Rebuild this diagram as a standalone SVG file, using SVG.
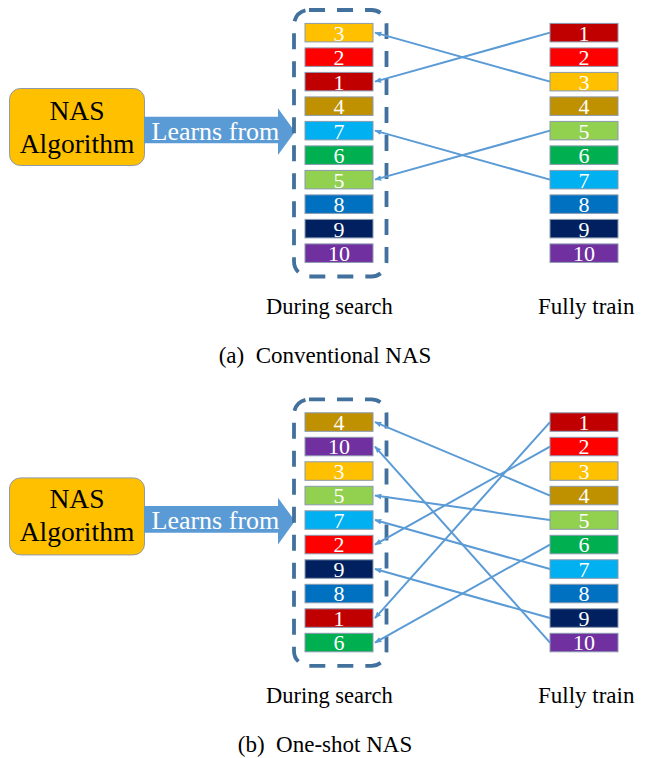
<svg xmlns="http://www.w3.org/2000/svg" width="650" height="758" viewBox="0 0 650 758">
<style>
text{font-family:'Liberation Serif','Times New Roman',serif}
.num{fill:#fff;font-size:22px;text-anchor:middle}
.box{stroke:#8a99ae;stroke-width:1}
.c1{fill:#C00000}.c2{fill:#FF0000}.c3{fill:#FFC000}.c4{fill:#BF9000}.c5{fill:#92D050}
.c6{fill:#00B050}.c7{fill:#00B0F0}.c8{fill:#0070C0}.c9{fill:#002060}.c10{fill:#7030A0}
.nas{fill:#FFC000;stroke:#8e9aab;stroke-width:1}
.nastxt{font-size:27.5px;fill:#000;text-anchor:middle}
.big{fill:#5B9BD5}
.lf{font-size:26px;fill:#fff}
.dash{fill:none;stroke:#41719C;stroke-width:3.8;stroke-dasharray:16 12}
.con line{stroke:#5B9BD5;stroke-width:2;marker-end:url(#ah)}
.lbl{font-size:22.5px;fill:#000}
.cap{font-size:23px;fill:#000;text-anchor:middle}
</style>
<defs>
<marker id="ah" viewBox="0 0 10 10" refX="9" refY="5" markerWidth="7" markerHeight="7" markerUnits="userSpaceOnUse" orient="auto">
<path d="M0,1 L10,5 L0,9 z" fill="#5B9BD5"/>
</marker>
</defs>

<!-- Panel (a) -->
<g id="panel-a">
<g id="a-nas"><rect class="nas" x="9.5" y="88.5" width="135" height="77" rx="11"/><text class="nastxt" x="77" y="120">NAS</text><text class="nastxt" x="77" y="153">Algorithm</text></g>
<g id="a-learns"><path class="big" d="M144,116.7 H278 V108.3 L295,131.7 L278,155 V143.3 H144 Z"/><text class="lf" x="151.5" y="140">Learns from</text></g>
<g id="a-search"><rect class="dash" x="294" y="10" width="92.5" height="266.5" rx="15"/></g>
<g id="a-l0"><rect class="box c3" x="305" y="23.4" width="68" height="18.5"/><text class="num" x="339" y="40.6">3</text></g>
<g id="a-l1"><rect class="box c2" x="305" y="47.9" width="68" height="18.5"/><text class="num" x="339" y="65.1">2</text></g>
<g id="a-l2"><rect class="box c1" x="305" y="72.4" width="68" height="18.5"/><text class="num" x="339" y="89.6">1</text></g>
<g id="a-l3"><rect class="box c4" x="305" y="96.9" width="68" height="18.5"/><text class="num" x="339" y="114.1">4</text></g>
<g id="a-l4"><rect class="box c7" x="305" y="121.4" width="68" height="18.5"/><text class="num" x="339" y="138.6">7</text></g>
<g id="a-l5"><rect class="box c6" x="305" y="145.9" width="68" height="18.5"/><text class="num" x="339" y="163.1">6</text></g>
<g id="a-l6"><rect class="box c5" x="305" y="170.4" width="68" height="18.5"/><text class="num" x="339" y="187.6">5</text></g>
<g id="a-l7"><rect class="box c8" x="305" y="194.9" width="68" height="18.5"/><text class="num" x="339" y="212.1">8</text></g>
<g id="a-l8"><rect class="box c9" x="305" y="219.4" width="68" height="18.5"/><text class="num" x="339" y="236.6">9</text></g>
<g id="a-l9"><rect class="box c10" x="305" y="243.9" width="68" height="18.5"/><text class="num" x="339" y="261.1">10</text></g>
<g id="a-r0"><rect class="box c1" x="550" y="23.4" width="68" height="18.5"/><text class="num" x="584" y="40.6">1</text></g>
<g id="a-r1"><rect class="box c2" x="550" y="47.9" width="68" height="18.5"/><text class="num" x="584" y="65.1">2</text></g>
<g id="a-r2"><rect class="box c3" x="550" y="72.4" width="68" height="18.5"/><text class="num" x="584" y="89.6">3</text></g>
<g id="a-r3"><rect class="box c4" x="550" y="96.9" width="68" height="18.5"/><text class="num" x="584" y="114.1">4</text></g>
<g id="a-r4"><rect class="box c5" x="550" y="121.4" width="68" height="18.5"/><text class="num" x="584" y="138.6">5</text></g>
<g id="a-r5"><rect class="box c6" x="550" y="145.9" width="68" height="18.5"/><text class="num" x="584" y="163.1">6</text></g>
<g id="a-r6"><rect class="box c7" x="550" y="170.4" width="68" height="18.5"/><text class="num" x="584" y="187.6">7</text></g>
<g id="a-r7"><rect class="box c8" x="550" y="194.9" width="68" height="18.5"/><text class="num" x="584" y="212.1">8</text></g>
<g id="a-r8"><rect class="box c9" x="550" y="219.4" width="68" height="18.5"/><text class="num" x="584" y="236.6">9</text></g>
<g id="a-r9"><rect class="box c10" x="550" y="243.9" width="68" height="18.5"/><text class="num" x="584" y="261.1">10</text></g>
<g id="a-connectors" class="con">
<line x1="550" y1="32.65" x2="375" y2="81.65"/>
<line x1="550" y1="81.65" x2="375" y2="32.65"/>
<line x1="550" y1="130.65" x2="375" y2="179.65"/>
<line x1="550" y1="179.65" x2="375" y2="130.65"/>
</g>
<text class="lbl" x="266" y="314">During search</text>
<text class="lbl" x="538" y="314" style="font-size:23px">Fully train</text>
<text class="cap" x="325" y="363" xml:space="preserve">(a)  Conventional NAS</text>
</g>

<!-- Panel (b) -->
<g id="panel-b" transform="translate(0,389.4)">
<g id="b-nas"><rect class="nas" x="9.5" y="88.5" width="135" height="77" rx="11"/><text class="nastxt" x="77" y="119">NAS</text><text class="nastxt" x="77" y="152">Algorithm</text></g>
<g id="b-learns"><path class="big" d="M144,116.7 H278 V108.3 L295,131.7 L278,155 V143.3 H144 Z"/><text class="lf" x="151.5" y="139.5">Learns from</text></g>
<g id="b-search"><rect class="dash" x="294" y="10" width="92.5" height="266.5" rx="15"/></g>
<g id="b-l0"><rect class="box c4" x="305" y="23.4" width="68" height="18.5"/><text class="num" x="339" y="40.6">4</text></g>
<g id="b-l1"><rect class="box c10" x="305" y="47.9" width="68" height="18.5"/><text class="num" x="339" y="65.1">10</text></g>
<g id="b-l2"><rect class="box c3" x="305" y="72.4" width="68" height="18.5"/><text class="num" x="339" y="89.6">3</text></g>
<g id="b-l3"><rect class="box c5" x="305" y="96.9" width="68" height="18.5"/><text class="num" x="339" y="114.1">5</text></g>
<g id="b-l4"><rect class="box c7" x="305" y="121.4" width="68" height="18.5"/><text class="num" x="339" y="138.6">7</text></g>
<g id="b-l5"><rect class="box c2" x="305" y="145.9" width="68" height="18.5"/><text class="num" x="339" y="163.1">2</text></g>
<g id="b-l6"><rect class="box c9" x="305" y="170.4" width="68" height="18.5"/><text class="num" x="339" y="187.6">9</text></g>
<g id="b-l7"><rect class="box c8" x="305" y="194.9" width="68" height="18.5"/><text class="num" x="339" y="212.1">8</text></g>
<g id="b-l8"><rect class="box c1" x="305" y="219.4" width="68" height="18.5"/><text class="num" x="339" y="236.6">1</text></g>
<g id="b-l9"><rect class="box c6" x="305" y="243.9" width="68" height="18.5"/><text class="num" x="339" y="261.1">6</text></g>
<g id="b-r0"><rect class="box c1" x="550" y="23.4" width="68" height="18.5"/><text class="num" x="584" y="40.6">1</text></g>
<g id="b-r1"><rect class="box c2" x="550" y="47.9" width="68" height="18.5"/><text class="num" x="584" y="65.1">2</text></g>
<g id="b-r2"><rect class="box c3" x="550" y="72.4" width="68" height="18.5"/><text class="num" x="584" y="89.6">3</text></g>
<g id="b-r3"><rect class="box c4" x="550" y="96.9" width="68" height="18.5"/><text class="num" x="584" y="114.1">4</text></g>
<g id="b-r4"><rect class="box c5" x="550" y="121.4" width="68" height="18.5"/><text class="num" x="584" y="138.6">5</text></g>
<g id="b-r5"><rect class="box c6" x="550" y="145.9" width="68" height="18.5"/><text class="num" x="584" y="163.1">6</text></g>
<g id="b-r6"><rect class="box c7" x="550" y="170.4" width="68" height="18.5"/><text class="num" x="584" y="187.6">7</text></g>
<g id="b-r7"><rect class="box c8" x="550" y="194.9" width="68" height="18.5"/><text class="num" x="584" y="212.1">8</text></g>
<g id="b-r8"><rect class="box c9" x="550" y="219.4" width="68" height="18.5"/><text class="num" x="584" y="236.6">9</text></g>
<g id="b-r9"><rect class="box c10" x="550" y="243.9" width="68" height="18.5"/><text class="num" x="584" y="261.1">10</text></g>
<g id="b-connectors" class="con">
<line x1="550" y1="32.65" x2="375" y2="228.65"/>
<line x1="550" y1="57.15" x2="375" y2="155.15"/>
<line x1="550" y1="106.15" x2="375" y2="32.65"/>
<line x1="550" y1="130.65" x2="375" y2="106.15"/>
<line x1="550" y1="155.15" x2="375" y2="253.15"/>
<line x1="550" y1="179.65" x2="375" y2="130.65"/>
<line x1="550" y1="228.65" x2="375" y2="179.65"/>
<line x1="550" y1="253.15" x2="375" y2="57.15"/>
</g>
<text class="lbl" x="266" y="313.6">During search</text>
<text class="lbl" x="538" y="313.6" style="font-size:23px">Fully train</text>
<text class="cap" x="325" y="362.6" xml:space="preserve">(b)  One-shot NAS</text>
</g>
</svg>
